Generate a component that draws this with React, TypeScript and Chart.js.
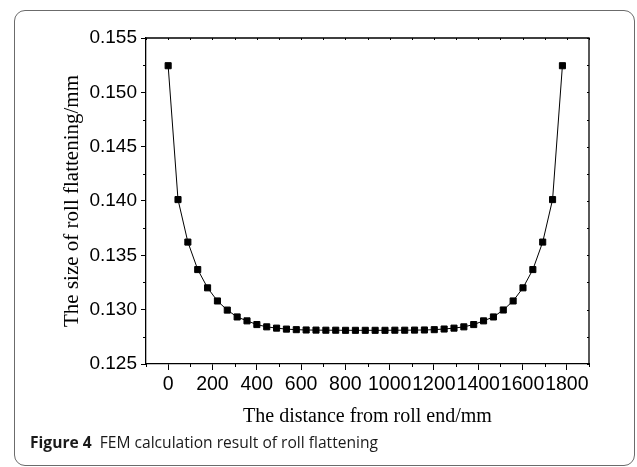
import React, { useEffect, useRef } from 'react';
import { Chart, registerables } from 'chart.js';

Chart.register(...registerables);

// Distance from roll end (mm)
const distances = [
  0, 44.5, 89, 133.5, 178, 222.5, 267, 311.5, 356, 400.5, 445, 489.5, 534, 578.5,
  623, 667.5, 712, 756.5, 801, 845.5, 890, 934.5, 979, 1023.5, 1068, 1112.5, 1157,
  1201.5, 1246, 1290.5, 1335, 1379.5, 1424, 1468.5, 1513, 1557.5, 1602, 1646.5,
  1691, 1735.5, 1780,
];

// Roll flattening size (mm)
const flattening = [
  0.15245, 0.14013, 0.13622, 0.13369, 0.13201, 0.1308, 0.12996, 0.12933, 0.12897,
  0.12863, 0.12842, 0.1283, 0.12821, 0.12816, 0.12813, 0.12812, 0.12811, 0.12811,
  0.1281, 0.1281, 0.1281, 0.1281, 0.1281, 0.12811, 0.12811, 0.12812, 0.12813,
  0.12816, 0.12822, 0.1283, 0.12842, 0.12863, 0.12897, 0.12933, 0.12997, 0.1308,
  0.13201, 0.13369, 0.13622, 0.14013, 0.15245,
];

const xMajorTicks = [0, 200, 400, 600, 800, 1000, 1200, 1400, 1600, 1800];
const xMinorTicks = [-100, 100, 300, 500, 700, 900, 1100, 1300, 1500, 1700, 1900];
const yMajorTicks = [0.125, 0.13, 0.135, 0.14, 0.145, 0.15, 0.155];
const yMinorTicks = [0.1275, 0.1325, 0.1375, 0.1425, 0.1475, 0.1525];

const xTitle = 'The distance from roll end/mm';
const yTitle = 'The size of roll flattening/mm';

const framePlugin = {
  id: 'frame',
  afterDraw(chart: any) {
    const { ctx, chartArea, scales } = chart;
    const { left, top, right, bottom } = chartArea;
    const x = scales.x;
    const y = scales.y;
    const seg = (x1: number, y1: number, x2: number, y2: number) => {
      ctx.beginPath();
      ctx.moveTo(x1, y1);
      ctx.lineTo(x2, y2);
      ctx.stroke();
    };
    ctx.save();
    ctx.strokeStyle = '#000';
    ctx.lineWidth = 1.3;
    ctx.beginPath();
    ctx.moveTo(left, top);
    ctx.lineTo(right, top);
    ctx.lineTo(right, bottom);
    ctx.stroke();
    ctx.lineWidth = 1;
    xMinorTicks.forEach((v) => {
      const px = Math.round(x.getPixelForValue(v)) + 0.5;
      seg(px, bottom, px, bottom + 3);
    });
    yMinorTicks.forEach((v) => {
      const py = Math.round(y.getPixelForValue(v)) + 0.5;
      seg(left - 3, py, left, py);
    });
    [...xMajorTicks, ...xMinorTicks].forEach((v) => {
      const px = Math.round(x.getPixelForValue(v)) + 0.5;
      seg(px, top, px, top + 2);
    });
    [...yMajorTicks, ...yMinorTicks].forEach((v) => {
      const py = Math.round(y.getPixelForValue(v)) + 0.5;
      seg(right - 2, py, right, py);
    });
    ctx.restore();
  },
};

export default function App() {
  const canvasRef = useRef<HTMLCanvasElement | null>(null);

  useEffect(() => {
    const canvas = canvasRef.current;
    if (!canvas) return;
    const chart = new Chart(canvas, {
      type: 'line',
      data: {
        datasets: [
          {
            data: distances.map((d, i) => ({ x: d, y: flattening[i] })),
            borderColor: '#000',
            borderWidth: 1,
            pointStyle: 'rect',
            pointRadius: 4.3,
            pointBackgroundColor: '#000',
            pointBorderColor: '#000',
            pointBorderWidth: 1,
            tension: 0,
          },
        ],
      },
      options: {
        animation: false,
        responsive: false,
        devicePixelRatio: 1,
        layout: { padding: { left: 0, top: 38, right: 48, bottom: 0 } },
        plugins: { legend: { display: false }, tooltip: { enabled: false } },
        scales: {
          x: {
            type: 'linear',
            min: -100,
            max: 1900,
            afterBuildTicks: (s: any) => {
              s.ticks = xMajorTicks.map((v) => ({ value: v }));
            },
            afterFit: (s: any) => {
              s.height = 76;
            },
            ticks: {
              autoSkip: false,
              maxRotation: 0,
              minRotation: 0,
              color: '#000',
              padding: 3,
              font: { family: 'Liberation Sans', size: 19.5 },
              callback: (v: any) => String(v),
            },
            grid: {
              drawOnChartArea: false,
              drawTicks: true,
              tickLength: 6,
              tickWidth: 1,
              tickColor: '#000',
            },
            border: { display: true, color: '#000', width: 1.3 },
            title: {
              display: true,
              text: xTitle,
              color: '#000',
              font: { family: 'Liberation Serif', size: 20 },
              padding: { top: 0, bottom: 11 },
            },
          },
          y: {
            type: 'linear',
            min: 0.125,
            max: 0.155,
            afterBuildTicks: (s: any) => {
              s.ticks = yMajorTicks.map((v) => ({ value: v }));
            },
            afterFit: (s: any) => {
              s.width = 146;
            },
            ticks: {
              color: '#000',
              padding: 4,
              font: { family: 'Liberation Sans', size: 19 },
              callback: (v: any) => Number(v).toFixed(3),
            },
            grid: {
              drawOnChartArea: false,
              drawTicks: true,
              tickLength: 5,
              tickWidth: 1,
              tickColor: '#000',
            },
            border: { display: true, color: '#000', width: 1.3 },
            title: {
              display: true,
              text: yTitle,
              color: '#000',
              font: { family: 'Liberation Serif', size: 21 },
              padding: { top: 59.4, bottom: 0 },
            },
          },
        },
      },
      plugins: [framePlugin],
    } as any);
    return () => chart.destroy();
  }, []);

  return (
    <div
      style={{
        position: 'absolute',
        left: 0,
        top: 0,
        width: 637,
        height: 467,
        overflow: 'hidden',
        background: '#fff',
      }}
    >
      <div
        style={{
          position: 'absolute',
          left: 14,
          top: 10,
          width: 621,
          height: 456,
          boxSizing: 'border-box',
          border: '1.3px solid #6b6b6b',
          borderRadius: 11,
        }}
      />
      <canvas
        ref={canvasRef}
        width={637}
        height={440}
        style={{ position: 'absolute', left: 0, top: 0, display: 'block' }}
      />
      <div
        style={{
          position: 'absolute',
          left: 30,
          top: 432,
          fontFamily: '"Open Sans", sans-serif',
          fontSize: 15.6,
          color: '#1a1a1a',
          whiteSpace: 'pre',
          lineHeight: '20px',
        }}
      >
        <span style={{ fontWeight: 700 }}>Figure 4</span>
        <span>{'  FEM calculation result of roll flattening'}</span>
      </div>
    </div>
  );
}
